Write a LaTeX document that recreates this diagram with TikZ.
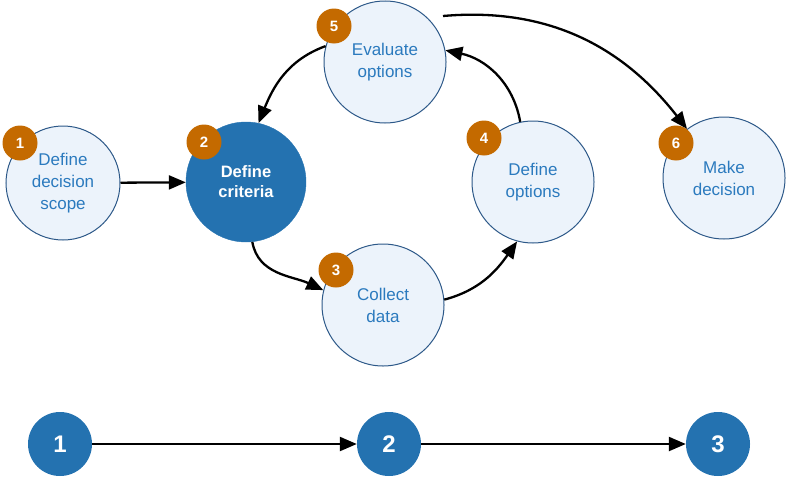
\documentclass[tikz,border=0pt]{standalone}
\usepackage{fontspec}
\setmainfont{Liberation Sans}
\usetikzlibrary{arrows.meta}
\definecolor{darkblue}{RGB}{36,114,176}
\definecolor{lightfill}{RGB}{236,243,251}
\definecolor{rim}{RGB}{44,88,136}
\definecolor{txtblue}{RGB}{43,122,190}
\definecolor{badgeorange}{RGB}{196,106,0}
\tikzset{
  stepnode/.style={circle, draw=rim, line width=1pt, fill=lightfill, inner sep=0pt,
    minimum size=122pt, align=center, text=txtblue, font=\fontsize{17}{22}\selectfont},
  keynode/.style={circle, draw=darkblue, fill=darkblue, inner sep=0pt, minimum size=120pt,
    align=center, text=white, font=\fontsize{16.5}{20}\selectfont\bfseries},
  badge/.style={circle, fill=badgeorange, inner sep=0pt, minimum size=35pt, text=white,
    font=\fontsize{15}{15}\selectfont\bfseries},
  bottomnode/.style={circle, fill=darkblue, inner sep=0pt, minimum size=64pt, text=white,
    font=\fontsize{24}{24}\selectfont\bfseries},
  conn/.style={line width=2.3pt, -{Triangle[length=17pt,width=14pt]}}
}
\begin{document}
\begin{tikzpicture}[x=1pt,y=1pt]
\useasboundingbox (0,0) rectangle (786,-479);
\node[stepnode, minimum size=114pt] (n1) at (63,-183) {Define\\decision\\scope};
\node[keynode] (n2) at (246,-182) {Define\\criteria};
\node[stepnode] (n3) at (383,-305) {Collect\\data};
\node[stepnode] (n4) at (533,-182) {Define\\options};
\node[stepnode] (n5) at (385,-62) {Evaluate\\options};
\node[stepnode] (n6) at (724,-178) {Make\\decision};
\node[badge] (b1) at (20,-143) {1};
\node[badge] (b2) at (204,-142) {2};
\node[badge] (b3) at (336,-270) {3};
\node[badge] (b4) at (484,-138) {4};
\node[badge] (b5) at (334,-26) {5};
\node[badge] (b6) at (676,-143) {6};
\coordinate (s56) at (443,-16);
\draw[conn] (n1) -- (n2);
\draw[conn] (n2.-84) to[out=-80,in=155] (n3.166);
\draw[conn] (n3.5) to[out=15,in=-125] (n4.-105);
\draw[conn] (n4.102) to[out=100,in=-12] (n5.11);
\draw[conn] (n5.165) to[out=200,in=68] (n2.78);
\draw[conn] (s56) to[out=5,in=128] (n6.127);
\node[bottomnode] (m1) at (60,-444) {1};
\node[bottomnode] (m2) at (389,-444) {2};
\node[bottomnode] (m3) at (718,-444) {3};
\draw[conn] (m1) -- (m2);
\draw[conn] (m2) -- (m3);
\end{tikzpicture}
\end{document}
